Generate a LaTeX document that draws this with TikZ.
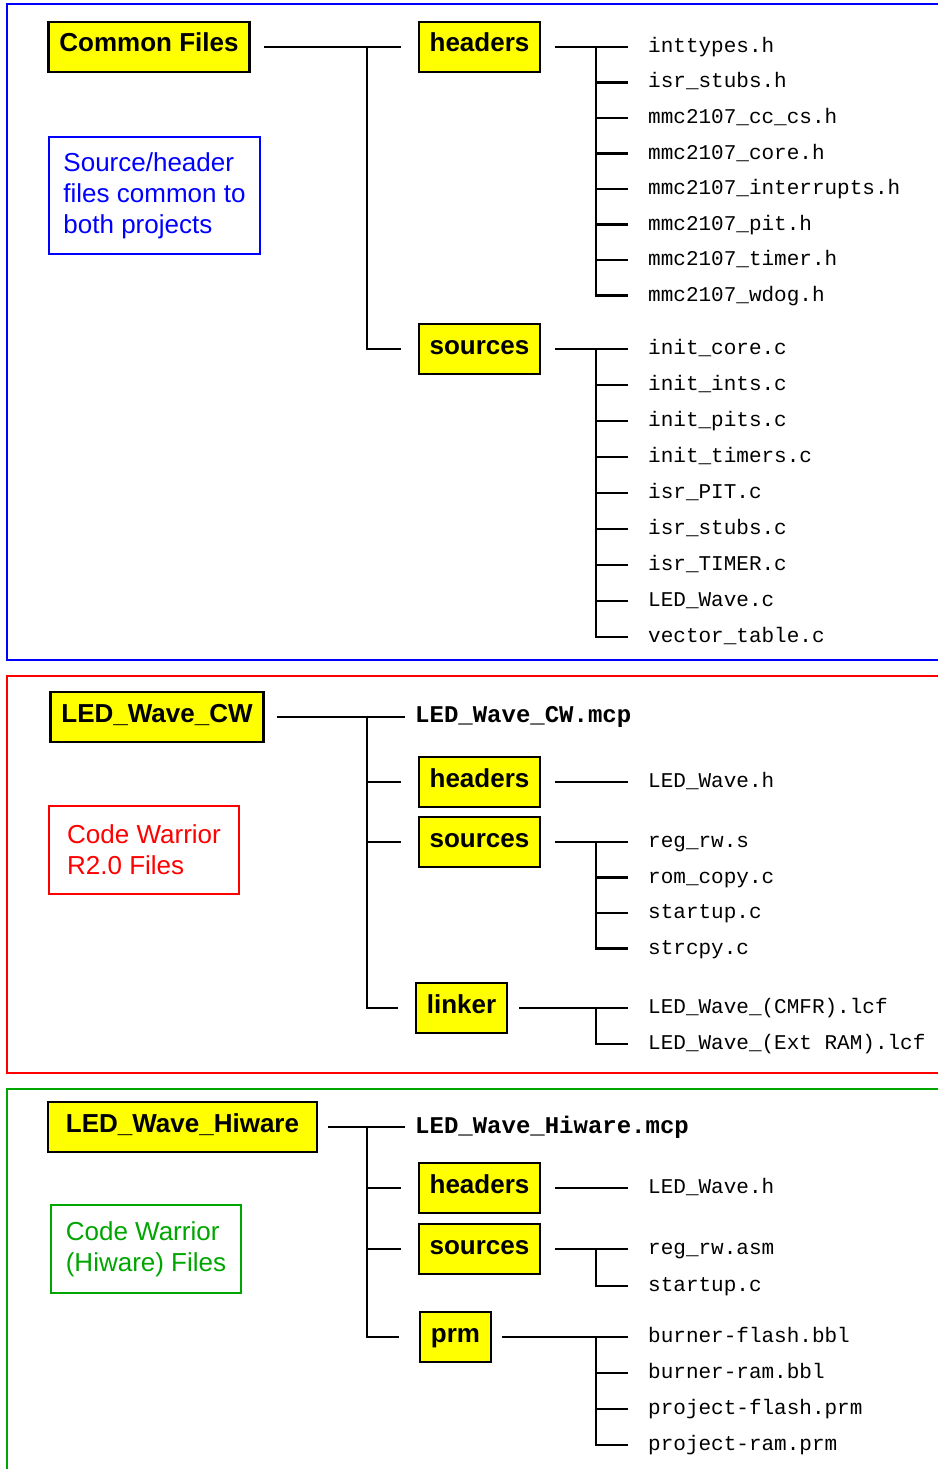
\documentclass[tikz,border=0pt]{standalone}
\usepackage{fontspec}
\setmainfont{Liberation Sans}
\setmonofont{Liberation Mono}
\usepackage{tikz}
\definecolor{boxyellow}{RGB}{255,255,0}
\definecolor{lineblue}{RGB}{0,0,255}
\definecolor{linered}{RGB}{255,0,0}
\definecolor{linegreen}{RGB}{0,166,0}
\tikzset{
  folder/.style={rectangle, draw=black, fill=boxyellow, line width=2.2pt, inner xsep=11pt, inner ysep=0pt, minimum height=50pt, text height=17pt, text depth=7pt, font=\fontsize{26}{31}\selectfont\bfseries},
  file/.style={anchor=west, inner xsep=20pt, inner ysep=0pt, text height=15pt, text depth=4pt, font=\fontsize{21}{25}\selectfont\ttfamily},
  project/.style={anchor=west, inner xsep=10pt, inner ysep=0pt, text height=16pt, text depth=5pt, font=\fontsize{24}{28}\selectfont\ttfamily\bfseries},
  note/.style={rectangle, anchor=north west, line width=2pt, align=left, inner sep=0pt, font=\fontsize{26}{31}\selectfont},
  branch/.style={line width=2.2pt},
  frame/.style={line width=2pt}
}

\begin{document}
\begin{tikzpicture}[x=1pt, y=-1pt]
\useasboundingbox (0,0) rectangle (937,1469);

% frames
\draw[frame, draw=lineblue] (950,4) -- (7,4) -- (7,660) -- (950,660);
\draw[frame, draw=linered] (950,676) -- (7,676) -- (7,1073) -- (950,1073);
\draw[frame, draw=linegreen] (950,1089) -- (7,1089) -- (7,1480);

% common files
\node[folder] (cf) at (149,47) {Common Files};
\node[note, draw=lineblue, text=lineblue, minimum width=211pt, minimum height=117pt] (ntcommon) at (48,136) {Source/header\\files common to\\both projects};
\node[folder] (hd1) at (479.5,47) {headers};
\node[folder] (src1) at (479.5,349) {sources};
\coordinate (t1) at (367,47);
\draw[branch, shorten <=13pt, shorten >=17pt] (cf.east) -- (hd1.west);
\draw[branch, shorten >=17pt] (t1) |- (src1.west);

\node[file] (h1) at (628,47) {inttypes.h};
\node[file] (h2) at (628,82.5) {isr\_stubs.h};
\node[file] (h3) at (628,118) {mmc2107\_cc\_cs.h};
\node[file] (h4) at (628,153.5) {mmc2107\_core.h};
\node[file] (h5) at (628,189) {mmc2107\_interrupts.h};
\node[file] (h6) at (628,224.5) {mmc2107\_pit.h};
\node[file] (h7) at (628,260) {mmc2107\_timer.h};
\node[file] (h8) at (628,295.5) {mmc2107\_wdog.h};
\coordinate (s1) at (596,47);
\draw[branch, shorten <=14pt] (hd1.east) -- (h1.west);
\foreach \f in {h2,h3,h4,h5,h6,h7,h8} \draw[branch] (s1) |- (\f.west);

\node[file] (c1) at (628,349) {init\_core.c};
\node[file] (c2) at (628,385) {init\_ints.c};
\node[file] (c3) at (628,421) {init\_pits.c};
\node[file] (c4) at (628,457) {init\_timers.c};
\node[file] (c5) at (628,493) {isr\_PIT.c};
\node[file] (c6) at (628,529) {isr\_stubs.c};
\node[file] (c7) at (628,565) {isr\_TIMER.c};
\node[file] (c8) at (628,601) {LED\_Wave.c};
\node[file] (c9) at (628,637) {vector\_table.c};
\coordinate (s2) at (596,349);
\draw[branch, shorten <=14pt] (src1.east) -- (c1.west);
\foreach \f in {c2,c3,c4,c5,c6,c7,c8,c9} \draw[branch] (s2) |- (\f.west);

% code warrior project
\node[folder] (cw) at (157,717) {LED\_Wave\_CW};
\node[note, draw=linered, text=linered, minimum width=190pt, minimum height=88pt] (ntcw) at (48,805) {Code Warrior\\R2.0 Files};
\node[project] (mcp1) at (405,717) {LED\_Wave\_CW.mcp};
\node[folder] (hd2) at (479.5,782) {headers};
\node[folder] (src2) at (479.5,842) {sources};
\node[folder] (lnk) at (461.5,1008) {linker};
\coordinate (t2) at (367,717);
\draw[branch, shorten <=12pt] (cw.east) -- (mcp1.west);
\draw[branch, shorten >=17pt] (t2) |- (hd2.west);
\draw[branch, shorten >=17pt] (t2) |- (src2.west);
\draw[branch, shorten >=17pt] (t2) |- (lnk.west);

\node[file] (cwh1) at (628,782) {LED\_Wave.h};
\draw[branch, shorten <=14pt] (hd2.east) -- (cwh1.west);

\node[file] (cwc1) at (628,842) {reg\_rw.s};
\node[file] (cwc2) at (628,877.5) {rom\_copy.c};
\node[file] (cwc3) at (628,913) {startup.c};
\node[file] (cwc4) at (628,948.5) {strcpy.c};
\coordinate (s3) at (596,842);
\draw[branch, shorten <=14pt] (src2.east) -- (cwc1.west);
\foreach \f in {cwc2,cwc3,cwc4} \draw[branch] (s3) |- (\f.west);

\node[file] (lcf1) at (628,1008) {LED\_Wave\_(CMFR).lcf};
\node[file] (lcf2) at (628,1044) {LED\_Wave\_(Ext RAM).lcf};
\coordinate (s4) at (596,1008);
\draw[branch, shorten <=11pt] (lnk.east) -- (lcf1.west);
\draw[branch] (s4) |- (lcf2.west);

% hiware project
\node[folder, minimum width=269pt] (hw) at (182.5,1127) {LED\_Wave\_Hiware};
\node[note, draw=linegreen, text=linegreen, minimum width=190pt, minimum height=88pt] (nthw) at (50,1204) {Code Warrior\\(Hiware) Files};
\node[project] (mcp2) at (405,1128) {LED\_Wave\_Hiware.mcp};
\node[folder] (hd3) at (479.5,1188) {headers};
\node[folder] (src3) at (479.5,1249) {sources};
\node[folder] (prm) at (455.5,1337) {prm};
\coordinate (t3) at (367,1128);
\draw[branch, shorten <=10pt] (hw.east) -- (hw.east -| mcp2.west);
\draw[branch, shorten >=17pt] (t3) |- (hd3.west);
\draw[branch, shorten >=17pt] (t3) |- (src3.west);
\draw[branch, shorten >=20pt] (t3) |- (prm.west);

\node[file] (hwh1) at (628,1188) {LED\_Wave.h};
\draw[branch, shorten <=14pt] (hd3.east) -- (hwh1.west);

\node[file] (hwc1) at (628,1249) {reg\_rw.asm};
\node[file] (hwc2) at (628,1286) {startup.c};
\coordinate (s5) at (596,1249);
\draw[branch, shorten <=14pt] (src3.east) -- (hwc1.west);
\draw[branch] (s5) |- (hwc2.west);

\node[file] (p1) at (628,1337) {burner-flash.bbl};
\node[file] (p2) at (628,1373) {burner-ram.bbl};
\node[file] (p3) at (628,1409) {project-flash.prm};
\node[file] (p4) at (628,1445) {project-ram.prm};
\coordinate (s6) at (596,1337);
\draw[branch, shorten <=10pt] (prm.east) -- (p1.west);
\foreach \f in {p2,p3,p4} \draw[branch] (s6) |- (\f.west);
\end{tikzpicture}
\end{document}
